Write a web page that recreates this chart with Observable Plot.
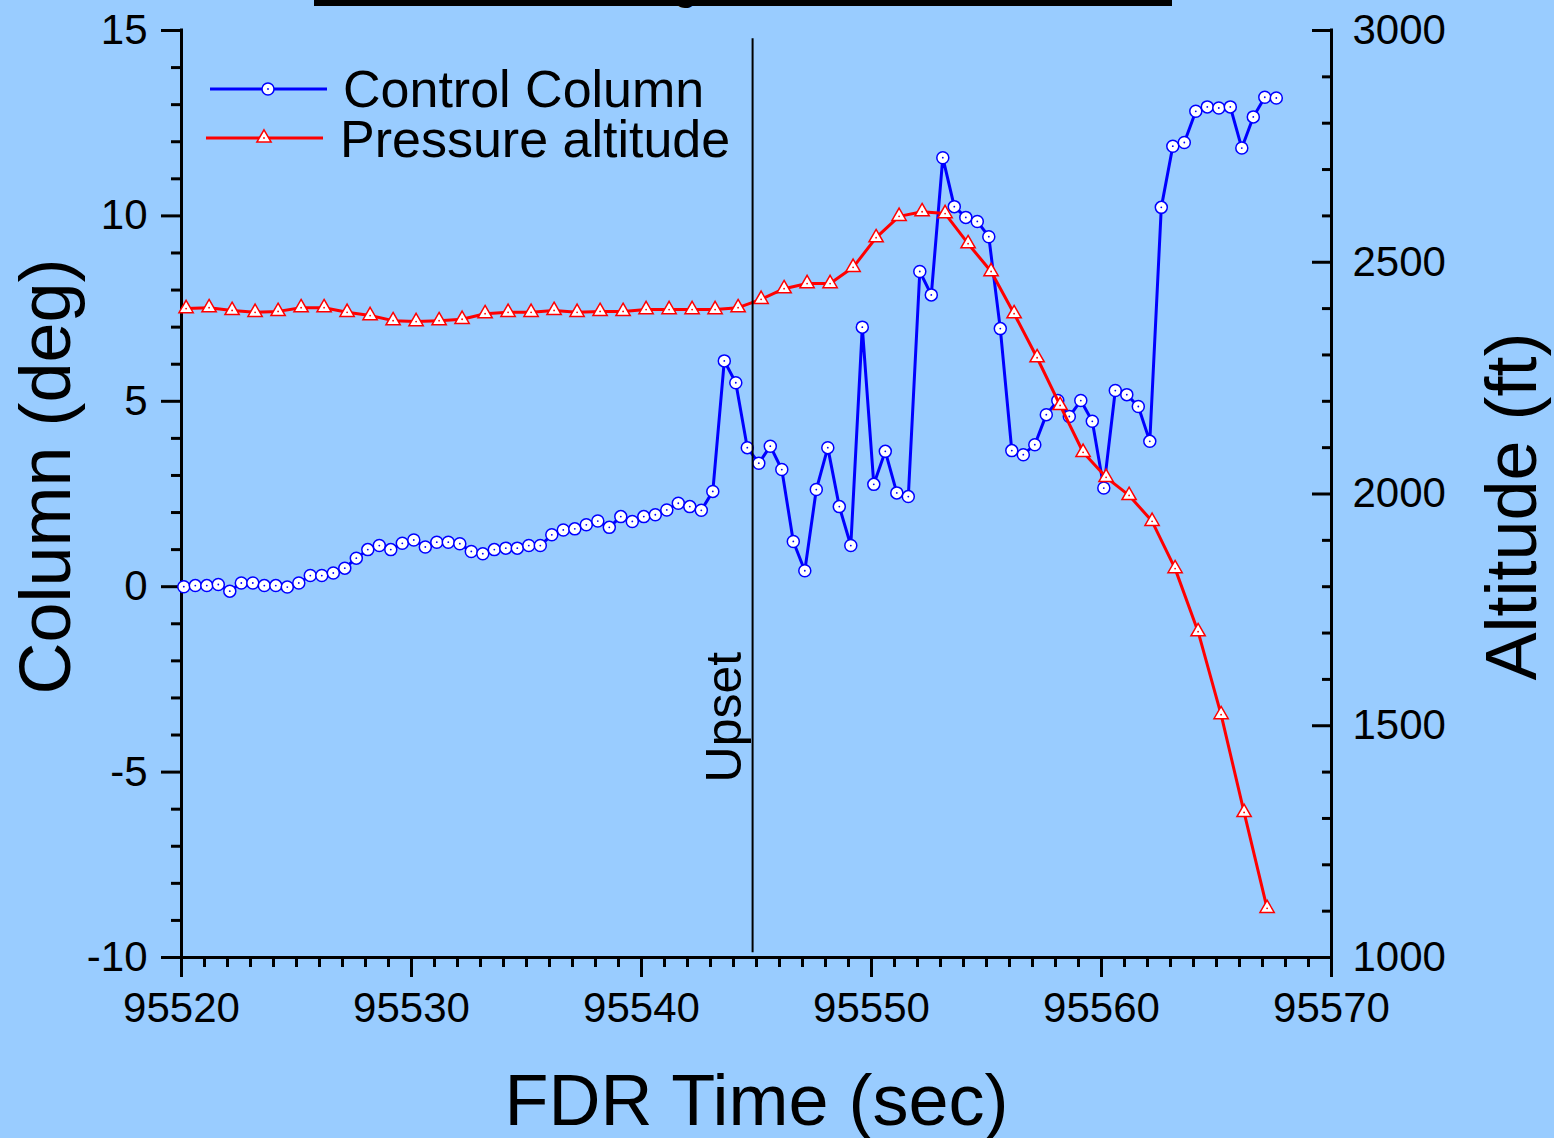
<!DOCTYPE html>
<html><head><meta charset="utf-8">
<script src="https://cdn.jsdelivr.net/npm/d3@7"></script>
<script src="https://cdn.jsdelivr.net/npm/@observablehq/plot@0.6"></script>
<style>
html,body{margin:0;padding:0;background:#99CCFF;}
#chart svg{display:block;}
</style></head><body><div id="chart"></div>
<script>
// ---- data ----
const colTime = [
  95520.1, 95520.6, 95521.1, 95521.6, 95522.1, 95522.6, 95523.1, 95523.6, 95524.1, 95524.6,
  95525.1, 95525.6, 95526.1, 95526.6, 95527.1, 95527.6, 95528.1, 95528.6, 95529.1, 95529.6,
  95530.1, 95530.6, 95531.1, 95531.6, 95532.1, 95532.6, 95533.1, 95533.6, 95534.1, 95534.6,
  95535.1, 95535.6, 95536.1, 95536.6, 95537.1, 95537.6, 95538.1, 95538.6, 95539.1, 95539.6,
  95540.1, 95540.6, 95541.1, 95541.6, 95542.1, 95542.6, 95543.1, 95543.6, 95544.1, 95544.6,
  95545.1, 95545.6, 95546.1, 95546.6, 95547.1, 95547.6, 95548.1, 95548.6, 95549.1, 95549.6,
  95550.1, 95550.6, 95551.1, 95551.6, 95552.1, 95552.6, 95553.1, 95553.6, 95554.1, 95554.6,
  95555.1, 95555.6, 95556.1, 95556.6, 95557.1, 95557.6, 95558.1, 95558.6, 95559.1, 95559.6,
  95560.1, 95560.6, 95561.1, 95561.6, 95562.1, 95562.6, 95563.1, 95563.6, 95564.1, 95564.6,
  95565.1, 95565.6, 95566.1, 95566.6, 95567.1, 95567.6
];
const colValue = [
  0.0, 0.03, 0.03, 0.06, -0.12, 0.1, 0.1, 0.03, 0.03, -0.01,
  0.1, 0.3, 0.3, 0.37, 0.5, 0.77, 1.0, 1.11, 1.0, 1.17,
  1.26, 1.07, 1.2, 1.2, 1.16, 0.95, 0.89, 1.0, 1.04, 1.04,
  1.11, 1.11, 1.4, 1.53, 1.56, 1.67, 1.77, 1.6, 1.89, 1.76,
  1.89, 1.94, 2.07, 2.25, 2.16, 2.06, 2.57, 6.09, 5.5, 3.75,
  3.33, 3.79, 3.16, 1.22, 0.43, 2.62, 3.75, 2.16, 1.11, 7.0,
  2.76, 3.65, 2.53, 2.43, 8.5, 7.87, 11.57, 10.25, 9.96, 9.85,
  9.44, 6.96, 3.67, 3.56, 3.83, 4.64, 5.02, 4.59, 5.02, 4.46,
  2.66, 5.29, 5.18, 4.86, 3.92, 10.23, 11.88, 11.98, 12.82, 12.94,
  12.91, 12.94, 11.83, 12.67, 13.2, 13.18
];
const altTime = [
  95520.2, 95521.2, 95522.2, 95523.2, 95524.2, 95525.2, 95526.2, 95527.2, 95528.2, 95529.2,
  95530.2, 95531.2, 95532.2, 95533.2, 95534.2, 95535.2, 95536.2, 95537.2, 95538.2, 95539.2,
  95540.2, 95541.2, 95542.2, 95543.2, 95544.2, 95545.2, 95546.2, 95547.2, 95548.2, 95549.2,
  95550.2, 95551.2, 95552.2, 95553.2, 95554.2, 95555.2, 95556.2, 95557.2, 95558.2, 95559.2,
  95560.2, 95561.2, 95562.2, 95563.2, 95564.2, 95565.2, 95566.2, 95567.2
];
const altValue = [
  2400, 2402, 2396, 2392, 2394, 2402, 2402, 2392, 2385, 2374,
  2372, 2374, 2377, 2389, 2392, 2392, 2396, 2392, 2394, 2394,
  2398, 2398, 2398, 2398, 2402, 2420, 2443, 2454, 2454, 2489,
  2553, 2599, 2609, 2605, 2540, 2480, 2389, 2294, 2191, 2090,
  2036, 1997, 1941, 1839, 1703, 1524, 1313, 1106
];
const seriesNames = ["Control Column", "Pressure altitude"];
const timeTicks = [95520, 95530, 95540, 95550, 95560, 95570];
const colTicks = [-10, -5, 0, 5, 10, 15];
const altTicks = [1000, 1500, 2000, 2500, 3000];
const timeMinorTicks = d3.range(95521, 95570, 1).filter(d => d % 10 !== 0);
const colMinorTicks = d3.range(-9, 15, 1).filter(d => d % 5 !== 0);
const altMinorTicks = d3.range(1100, 3000, 100).filter(d => d % 500 !== 0);
const upsetTime = 95544.83;
const upsetLabel = "Upset";
const xTitle = "FDR Time (sec)";
const yLeftTitle = "Column (deg)";
const yRightTitle = "Altitude (ft)";
const titleFragment = "g";

// ---- mapping for the secondary axis ----
const altDomain = [1000, 3000];
const colDomain = [-10, 15];
const altToCol = a => colDomain[0] + (a - altDomain[0]) / (altDomain[1] - altDomain[0]) * (colDomain[1] - colDomain[0]);
const colToAlt = c => Math.round(altDomain[0] + (c - colDomain[0]) / (colDomain[1] - colDomain[0]) * (altDomain[1] - altDomain[0]));

const colData = colTime.map((t, i) => ({t, v: colValue[i]}));
const altData = altTime.map((t, i) => ({t, v: altToCol(altValue[i])}));

const BLUE = "#0000FF", RED = "#FF0000";
const FONT = "'Liberation Sans', Arial, Helvetica, sans-serif";
const CIRCLE_R = 6, TRI_R = 5.3;

const chart = Plot.plot({
  width: 1554, height: 1138,
  marginLeft: 181, marginRight: 223, marginTop: 30, marginBottom: 181,
  style: {background: "#99CCFF", fontFamily: FONT, color: "#000", overflow: "visible"},
  x: {domain: [95520, 95570]},
  y: {domain: colDomain},
  marks: [
    Plot.axisX(timeMinorTicks, {tickSize: 10, strokeWidth: 3, tickFormat: () => "", label: null}),
    Plot.axisX(timeTicks, {tickSize: 20, tickPadding: 15, strokeWidth: 3, fontSize: 42, tickFormat: d => String(d), label: null}),
    Plot.axisY(colMinorTicks, {anchor: "left", tickSize: 10, strokeWidth: 3, tickFormat: () => "", label: null}),
    Plot.axisY(colTicks, {anchor: "left", tickSize: 20, tickPadding: 14, strokeWidth: 3, fontSize: 42, tickFormat: d => String(d), label: null}),
    Plot.axisY(altMinorTicks.map(altToCol), {anchor: "right", tickSize: -10, strokeWidth: 3, tickFormat: () => "", label: null}),
    Plot.axisY(altTicks.map(altToCol), {anchor: "right", tickSize: -20, tickPadding: 41, strokeWidth: 3, fontSize: 42, tickFormat: d => String(colToAlt(d)), label: null}),
    Plot.ruleX([95520, 95570], {strokeWidth: 3, strokeLinecap: "square"}),
    Plot.ruleY([colDomain[0]], {strokeWidth: 3, strokeLinecap: "square"}),
    // Control column
    Plot.line(colData, {x: "t", y: "v", stroke: BLUE, strokeWidth: 3}),
    Plot.dot(colData, {x: "t", y: "v", r: CIRCLE_R, fill: "white", stroke: BLUE, strokeWidth: 1.5}),
    Plot.dot(colData, {x: "t", y: "v", r: 0.9, fill: BLUE}),
    // Pressure altitude
    Plot.line(altData, {x: "t", y: "v", stroke: RED, strokeWidth: 3}),
    Plot.dot(altData, {x: "t", y: "v", symbol: "triangle", r: TRI_R, fill: "white", stroke: RED, strokeWidth: 1.5}),
    Plot.dot(altData, {x: "t", y: "v", r: 0.9, fill: RED}),
    // Upset marker
    Plot.ruleX([upsetTime], {y1: 14.78, y2: -9.87, stroke: "black", strokeWidth: 2}),
    Plot.text([upsetLabel], {x: upsetTime, y: -5.28, text: d => d, rotate: -90, textAnchor: "start", lineAnchor: "middle", fontSize: 50, dx: -28}),
    // axis titles
    Plot.text([xTitle], {frameAnchor: "bottom", text: d => d, lineAnchor: "middle", dy: 144, fontSize: 72}),
    Plot.text([yLeftTitle], {frameAnchor: "left", text: d => d, rotate: -90, lineAnchor: "middle", textAnchor: "middle", dx: -135, dy: -17.5, fontSize: 72}),
    Plot.text([yRightTitle], {frameAnchor: "right", text: d => d, rotate: -90, lineAnchor: "middle", textAnchor: "middle", dx: 181, dy: 12.5, fontSize: 72})
  ]
});

document.getElementById("chart").appendChild(chart);

// ---- legend and cut-off title bar ----
const svgSel = d3.select(chart);
const titleG = svgSel.append("g").attr("class", "title-fragment");
titleG.append("text").attr("x", 673).attr("y", -2).attr("text-anchor", "start").attr("font-size", 46).attr("font-family", FONT).attr("fill", "black").text(titleFragment);
titleG.append("rect").attr("x", 314).attr("y", 0).attr("width", 858).attr("height", 6).attr("fill", "black");

const lg = svgSel.append("g").attr("class", "legend").attr("font-family", FONT).attr("font-size", 52).attr("text-anchor", "start");
lg.append("line").attr("x1", 210).attr("x2", 327).attr("y1", 89).attr("y2", 89).attr("stroke", BLUE).attr("stroke-width", 3);
lg.append("circle").attr("cx", 268).attr("cy", 89).attr("r", CIRCLE_R).attr("fill", "white").attr("stroke", BLUE).attr("stroke-width", 1.5);
lg.append("circle").attr("cx", 268).attr("cy", 89).attr("r", 0.9).attr("fill", BLUE);
lg.append("text").attr("x", 343).attr("y", 107).attr("fill", "black").text(seriesNames[0]);
lg.append("line").attr("x1", 206).attr("x2", 323).attr("y1", 138).attr("y2", 138).attr("stroke", RED).attr("stroke-width", 3);
lg.append("path").attr("transform", "translate(264,138)")
  .attr("d", d3.symbol(d3.symbolTriangle, Math.PI * TRI_R * TRI_R)())
  .attr("fill", "white").attr("stroke", RED).attr("stroke-width", 1.5);
lg.append("circle").attr("cx", 264).attr("cy", 138).attr("r", 0.9).attr("fill", RED);
lg.append("text").attr("x", 340).attr("y", 157).attr("fill", "black").text(seriesNames[1]);
</script>
</body></html>
